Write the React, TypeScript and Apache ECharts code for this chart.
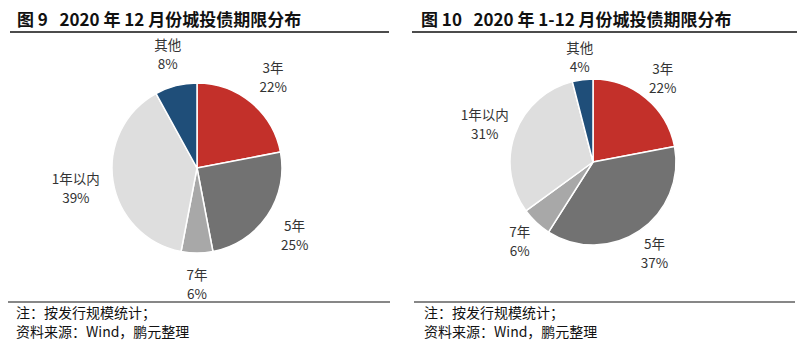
import React, { useEffect, useRef } from "react";
import * as echarts from "echarts";

const categories = ["3年", "5年", "7年", "1年以内", "其他"];
const decemberValues = [22, 25, 6, 39, 8];
const fullYearValues = [22, 37, 6, 31, 4];
const leftTitle = "图 9   2020 年 12 月份城投债期限分布";
const rightTitle = "图 10   2020 年 1-12 月份城投债期限分布";
const noteLine = "注：按发行规模统计；";
const sourceLine = "资料来源：Wind，鹏元整理";

const palette = ["#C3302A", "#727272", "#A8A8A8", "#DEDEDE", "#1F4E79"];
const FONT = "'Noto Sans CJK SC', 'Noto Sans', sans-serif";

function midAngles(values: number[]) {
  const total = values.reduce((a, b) => a + b, 0);
  let acc = 0;
  return values.map((v) => {
    const a = ((acc + v / 2) / total) * Math.PI * 2;
    acc += v;
    return a;
  });
}

function makePie(values: number[], cx: number, cy: number, r: number, gap: number) {
  const mids = midAngles(values);
  return {
    type: "pie",
    center: [cx, cy],
    radius: [0, r],
    startAngle: 90,
    clockwise: true,
    silent: true,
    itemStyle: { borderColor: "#fff", borderWidth: 1.5 },
    label: {
      show: true,
      position: "outside",
      formatter: "{b}\n{c}%",
      fontFamily: FONT,
      fontSize: 13.5,
      lineHeight: 19,
      color: "#333",
      align: "center",
    },
    labelLine: { show: false },
    labelLayout: (p: any) => {
      const a = mids[p.dataIndex];
      const w = p.labelRect.width;
      const h = p.labelRect.height;
      const s = Math.sin(a);
      const c = Math.cos(a);
      const d = r + gap + (Math.abs(s) * w) / 2 + (Math.abs(c) * h) / 2;
      return { x: cx + d * s, y: cy - d * c, align: "center", verticalAlign: "middle" };
    },
    data: categories.map((name, i) => ({
      name,
      value: values[i],
      itemStyle: { color: palette[i] },
    })),
  };
}

function textEl(text: string, x: number, y: number, size: number, weight: string, lh: number) {
  return {
    type: "text",
    left: x,
    top: y,
    style: {
      text,
      fontFamily: FONT,
      fontSize: size,
      fontWeight: weight,
      lineHeight: lh,
      fill: "#111",
    },
  };
}

function lineEl(x1: number, x2: number, y: number, w: number) {
  return {
    type: "line",
    shape: { x1, y1: y, x2, y2: y },
    style: { stroke: "#111", lineWidth: w },
  };
}

export default function App() {
  const ref = useRef<HTMLDivElement>(null);
  useEffect(() => {
    if (!ref.current) return;
    const chart = echarts.init(ref.current, null, { renderer: "svg" });
    chart.setOption({
      animation: false,
      backgroundColor: "#fff",
      series: [
        makePie(decemberValues, 197, 168, 85, 11),
        makePie(fullYearValues, 593, 162, 83, 3),
      ],
      graphic: [
        textEl(leftTitle, 17, 8, 17, "bold", 20),
        textEl(rightTitle, 421, 8, 17, "bold", 20),
        lineEl(10, 389, 32, 1.5),
        lineEl(412, 797, 32, 1.5),
        lineEl(8, 390, 302, 1.2),
        lineEl(414, 795, 302, 1.2),
        textEl(noteLine, 16, 304, 14, "normal", 16),
        textEl(sourceLine, 16, 323, 14, "normal", 16),
        textEl(noteLine, 424, 304, 14, "normal", 16),
        textEl(sourceLine, 424, 323, 14, "normal", 16),
      ],
    });
    return () => chart.dispose();
  }, []);
  return (
    <div
      ref={ref}
      style={{ position: "fixed", left: 0, top: 0, width: 801, height: 352, background: "#fff" }}
    />
  );
}
